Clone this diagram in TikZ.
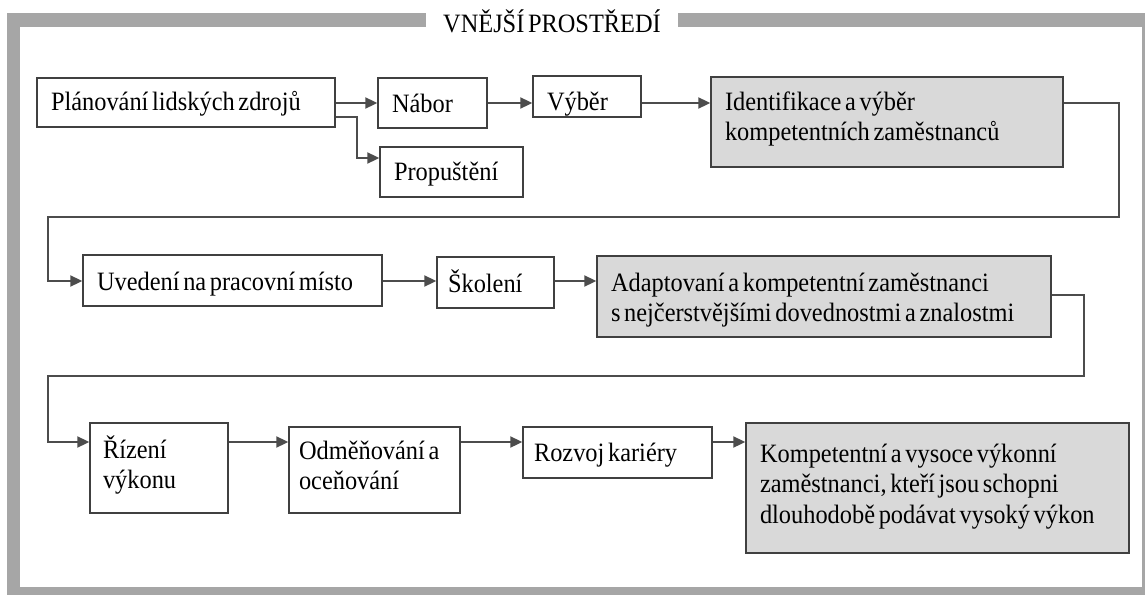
\documentclass[tikz,border=0pt]{standalone}
\usepackage{fontspec}
\setmainfont{Liberation Serif}[FakeStretch = 0.92, WordSpace = 0.6]
\usetikzlibrary{arrows.meta, calc}

\tikzset{
    box/.style = {draw = black!75, line width = 1.4pt, fill = white, align = flush left,
        anchor = base, inner xsep = 14pt, inner ysep = 0pt,
        font = \fontsize{26.5}{30.5}\selectfont},
    result/.style = {box, fill = black!15},
    link/.style = {draw = black!70, line width = 2pt, line join = miter,
        -{Triangle[length = 12pt, width = 11pt]}},
    frame/.style = {draw = black!35, line width = 13.5pt},
    heading/.style = {fill = white, inner xsep = 17pt, inner ysep = 3pt,
        font = \fontsize{26.5}{30.5}\selectfont},
}

\begin{document}
\begin{tikzpicture}[x = 1pt, y = -1pt]
    \useasboundingbox (0,0) rectangle (1145,594);
    % outer frame
    \begin{scope}
        \clip (0,0) rectangle (1145,594);
        \draw[frame] (13.5,20) rectangle (1148.75,593.75);
    \end{scope}
    \node[heading, anchor = base] (env) at (552,33) {VNĚJŠÍ PROSTŘEDÍ};

    % first row
    \node[box, text width = 270pt, text height = 32pt, text depth = 17pt] (plan) at (186,110)
        {Plánování lidských zdrojů};
    \node[box, text width = 81pt, text height = 34pt, text depth = 16pt] (nabor) at (432.5,112) {Nábor};
    \node[box, text width = 115pt, text height = 33pt, text depth = 17pt] (propust) at (451.5,180) {Propuštění};
    \node[box, text width = 80pt, text height = 34pt, text depth = 7pt] (vyber) at (587,110) {Výběr};
    \node[result, text width = 324pt, text height = 33pt, text depth = 57pt] (ident) at (887,110)
        {Identifikace a výběr\\kompetentních zaměstnanců};

    % second row
    \node[box, text width = 271pt, text height = 35pt, text depth = 16pt] (uved) at (232.5,290)
        {Uvedení na pracovní místo};
    \node[box, inner xsep = 11pt, text width = 95pt, text height = 35pt, text depth = 16pt] (skol) at (495.5,292)
        {Školení};
    \node[result, text width = 426pt, text height = 35pt, text depth = 46pt] (adapt) at (824,291)
        {Adaptovaní a kompetentní zaměstnanci\\s nejčerstvějšími dovednostmi a znalostmi};

    % third row
    \node[box, inner xsep = 13pt, text width = 112pt, text height = 35pt, text depth = 55pt] (rizeni) at (159,458)
        {Řízení\\výkonu};
    \node[box, inner xsep = 10pt, text width = 151pt, text height = 32pt, text depth = 54pt] (odmen) at (374.5,459)
        {Odměňování a\\oceňování};
    \node[box, inner xsep = 11pt, text width = 167pt, text height = 34pt, text depth = 17pt] (rozvoj) at (617.5,461)
        {Rozvoj kariéry};
    \node[result, text width = 355pt, text height = 39pt, text depth = 91pt] (kompet) at (937.5,462)
        {Kompetentní a vysoce výkonní\\zaměstnanci, kteří jsou schopni\\dlouhodobě podávat vysoký výkon};

    % levels of the arrows and bends
    \coordinate (rowA) at (48,103);
    \coordinate (rowB) at (48,281);
    \coordinate (rowC) at (48,442);
    \coordinate (split) at (357,117);
    \coordinate (turnA) at (1119,217);
    \coordinate (turnB) at (1084,376);

    \draw[link] (plan.east |- rowA) -- (nabor.west |- rowA);
    \draw[link] (plan.east |- split) -- (split) |- ([yshift = 14pt]propust.west);
    \draw[link] (nabor.east |- rowA) -- (vyber.west |- rowA);
    \draw[link] (vyber.east |- rowA) -- (ident.west |- rowA);
    \draw[link] (ident.east |- rowA) -| (turnA) -| (rowB) -- (uved.west |- rowB);

    \draw[link] (uved.east |- rowB) -- (skol.west |- rowB);
    \draw[link] (skol.east |- rowB) -- (adapt.west |- rowB);
    \draw[link] ([yshift = 1.5pt]adapt.east) -| (turnB) -| (rowC) -- (rizeni.west |- rowC);

    \draw[link] (rizeni.east |- rowC) -- (odmen.west |- rowC);
    \draw[link] (odmen.east |- rowC) -- (rozvoj.west |- rowC);
    \draw[link] (rozvoj.east |- rowC) -- (kompet.west |- rowC);
\end{tikzpicture}
\end{document}
